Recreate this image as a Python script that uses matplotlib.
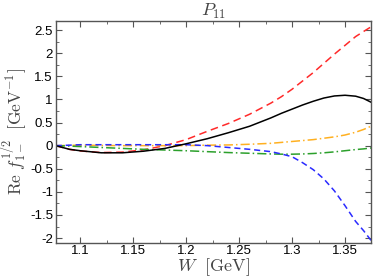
import numpy as np
import matplotlib
matplotlib.use("Agg")
import matplotlib.pyplot as plt
import matplotlib.ticker as mticker

# values (W in GeV)
W_full = [1.077, 1.09, 1.10, 1.12, 1.14, 1.16, 1.18, 1.20, 1.22, 1.24, 1.26,
          1.28, 1.29, 1.30, 1.31, 1.32, 1.33, 1.34, 1.35, 1.36, 1.3675, 1.3745]
total = [0.0, -0.08, -0.11, -0.155, -0.155, -0.12, -0.06, 0.04, 0.15, 0.28, 0.42,
         0.60, 0.70, 0.79, 0.88, 0.96, 1.03, 1.075, 1.09, 1.07, 1.02, 0.94]
red = [0.0, -0.08, -0.115, -0.15, -0.14, -0.09, 0.0, 0.13, 0.31, 0.48, 0.68,
       0.92, 1.06, 1.22, 1.40, 1.58, 1.78, 1.98, 2.17, 2.36, 2.47, 2.57]
orange = [0.0, 0.005, 0.01, 0.005, 0.0, 0.0, 0.0, 0.0, 0.01, 0.015, 0.03,
          0.05, 0.07, 0.09, 0.11, 0.13, 0.16, 0.19, 0.23, 0.29, 0.35, 0.42]
green = [0.0, -0.01, -0.02, -0.04, -0.06, -0.08, -0.095, -0.11, -0.13, -0.15, -0.165,
         -0.18, -0.185, -0.185, -0.18, -0.17, -0.155, -0.135, -0.11, -0.085, -0.07, -0.05]
blue = [0.0, 0.01, 0.02, 0.02, 0.02, 0.02, 0.02, 0.02, 0.0, -0.04, -0.08,
        -0.13, -0.18, -0.24, -0.37, -0.52, -0.72, -0.98, -1.30, -1.64, -1.84, -2.05]

plt.rcParams['mathtext.fontset'] = 'cm'
plt.rcParams['font.family'] = 'Liberation Sans'

fig = plt.figure(figsize=(3.74, 2.78), dpi=100)
ax = fig.add_axes([0.149, 0.127, 0.843, 0.798])

lw = 1.1
ax.plot(W_full, red, color='#ff2a2a', ls=(0, (5, 3)), lw=lw)
ax.plot(W_full, orange, color='#ffb020', ls=(0, (6, 2, 1, 2)), lw=lw)
ax.plot(W_full, green, color='#2ca02c', ls=(0, (6, 2, 1, 2)), lw=lw)
ax.plot(W_full, blue, color='#2a2aff', ls=(0, (4, 2.5)), lw=lw)
ax.plot(W_full, total, color='black', ls='-', lw=lw)

ax.set_xlim(1.077, 1.3745)
ax.set_ylim(-2.1, 2.7)
ax.xaxis.set_major_locator(mticker.MultipleLocator(0.05))
ax.xaxis.set_minor_locator(mticker.MultipleLocator(0.025))
ax.yaxis.set_major_locator(mticker.MultipleLocator(0.5))
ax.yaxis.set_minor_locator(mticker.MultipleLocator(0.25))
fmt = mticker.FuncFormatter(lambda v, p: ('%g' % round(v, 3)))
ax.xaxis.set_major_formatter(fmt)
ax.yaxis.set_major_formatter(fmt)
ax.tick_params(which='both', direction='in', top=True, right=True,
               labelsize=9.5, color='#555555', pad=2)
ax.tick_params(which='major', length=4, width=0.8)
ax.tick_params(which='minor', length=2, width=0.6)
for s in ax.spines.values():
    s.set_color('#555555')
    s.set_linewidth(1.0)

ax.set_xlabel(r'$W\ \ [\mathrm{GeV}]$', fontsize=13, color='#444444', labelpad=-1)
ax.set_ylabel(r'$\mathrm{Re}\ f_{1-}^{1/2}\ \ [\mathrm{GeV}^{-1}]$', fontsize=12.5,
              color='#444444', labelpad=0)
ax.set_title(r'$P_{11}$', fontsize=13, color='#444444', pad=3)

fig.savefig('out.png', dpi=100)
